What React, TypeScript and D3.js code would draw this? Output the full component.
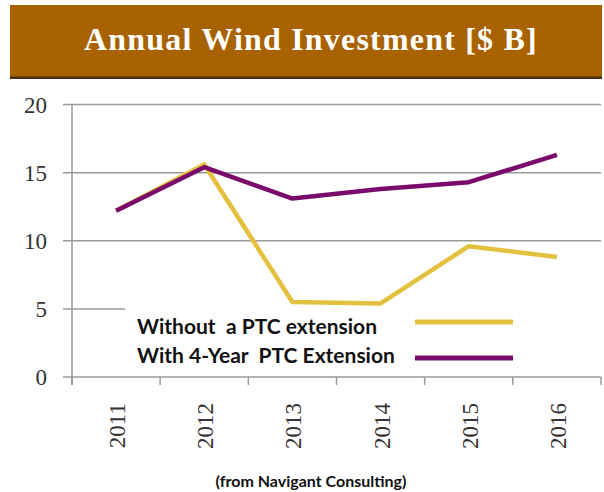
import * as d3 from "d3";
import { useEffect, useRef } from "react";

const years = ["2011", "2012", "2013", "2014", "2015", "2016"];
const withoutPTC = [12.2, 15.6, 5.5, 5.4, 9.6, 8.8];
const withPTC = [12.2, 15.4, 13.1, 13.8, 14.3, 16.3];
const yTicks = [0, 5, 10, 15, 20];
const seriesNames = ["Without  a PTC extension", "With 4-Year  PTC Extension"];
const seriesColors = ["#E4C03F", "#7A0B6C"];

const App = () => {
  const ref: any = useRef();

  useEffect(() => {
    document.body.style.margin = "0";
    const svg = d3.select(ref.current);
    svg.selectAll("*").remove();

    // title banner
    svg.append("rect").attr("x", 10).attr("y", 5).attr("width", 592).attr("height", 73).attr("fill", "#A86200");
    svg.append("rect").attr("x", 10).attr("y", 76.5).attr("width", 592).attr("height", 2.5).attr("fill", "#4A2E12");
    svg.append("text")
      .attr("x", 311).attr("y", 50)
      .attr("text-anchor", "middle")
      .attr("fill", "#fff")
      .style("font", "bold 32px 'Liberation Serif', serif")
      .style("letter-spacing", "1.2px")
      .text("Annual Wind Investment [$ B]");

    const x = d3.scaleBand().domain(years).range([72, 601]);
    const y = d3.scaleLinear().domain([0, 20]).range([377, 104.5]);

    // gridlines
    svg.append("g").selectAll("line").data(yTicks.filter(d => d > 0)).join("line")
      .attr("x1", 63).attr("x2", 601)
      .attr("y1", d => y(d)).attr("y2", d => y(d))
      .attr("stroke", "#9a9a9a").attr("stroke-width", 1.5);

    // legend box (hides part of the 5 gridline)
    svg.append("rect").attr("x", 125).attr("y", 306).attr("width", 480).attr("height", 67).attr("fill", "#fff");

    // axes
    svg.append("line").attr("x1", 72).attr("x2", 72).attr("y1", y(20)).attr("y2", 385)
      .attr("stroke", "#9a9a9a").attr("stroke-width", 1.5);
    svg.append("line").attr("x1", 63).attr("x2", 601).attr("y1", y(0)).attr("y2", y(0))
      .attr("stroke", "#9a9a9a").attr("stroke-width", 1.5);
    svg.append("g").selectAll("line").data(years.map(d => x(d)!).concat([601])).join("line")
      .attr("x1", d => d).attr("x2", d => d).attr("y1", y(0)).attr("y2", 385)
      .attr("stroke", "#9a9a9a").attr("stroke-width", 1.5);

    // y labels
    svg.append("g").selectAll("text").data(yTicks).join("text")
      .attr("x", 47).attr("y", d => y(d) + 8)
      .attr("text-anchor", "end")
      .attr("fill", "#333")
      .style("font", "23px 'Liberation Serif', serif")
      .text(d => d);

    // x labels
    svg.append("g").selectAll("text").data(years).join("text")
      .attr("transform", d => `translate(${x(d)! + x.bandwidth() / 2 + 9},403) rotate(-90)`)
      .attr("text-anchor", "end")
      .attr("fill", "#333")
      .style("font", "23px 'Liberation Serif', serif")
      .text(d => d);

    // lines
    const line = d3.line<number>()
      .x((d, i) => x(years[i])! + x.bandwidth() / 2)
      .y(d => y(d));
    [withoutPTC, withPTC].forEach((s, i) => {
      svg.append("path").datum(s)
        .attr("d", line)
        .attr("fill", "none")
        .attr("stroke", seriesColors[i])
        .attr("stroke-width", 4.5)
        .attr("stroke-linejoin", "round");
    });

    // legend
    const lg = svg.append("g").selectAll("g").data(seriesNames).join("g")
      .attr("transform", (d, i) => `translate(0,${334 + i * 29})`);
    lg.append("text")
      .attr("x", 137).attr("y", 0)
      .attr("fill", "#111")
      .style("font", "bold 21px Lato, sans-serif")
      .style("white-space", "pre")
      .text(d => d);
    lg.append("line")
      .attr("x1", 415).attr("x2", 513)
      .attr("y1", (d, i) => (i ? -5 : -12)).attr("y2", (d, i) => (i ? -5 : -12))
      .attr("stroke", (d, i) => seriesColors[i]).attr("stroke-width", 5);

    // source
    svg.append("text")
      .attr("x", 311).attr("y", 487)
      .attr("text-anchor", "middle")
      .attr("fill", "#111")
      .style("font", "bold 16px Lato, sans-serif")
      .text("(from Navigant Consulting)");
  }, []);

  return <svg ref={ref} width={604} height={492} style={{ display: "block" }} />;
};

export default App;
